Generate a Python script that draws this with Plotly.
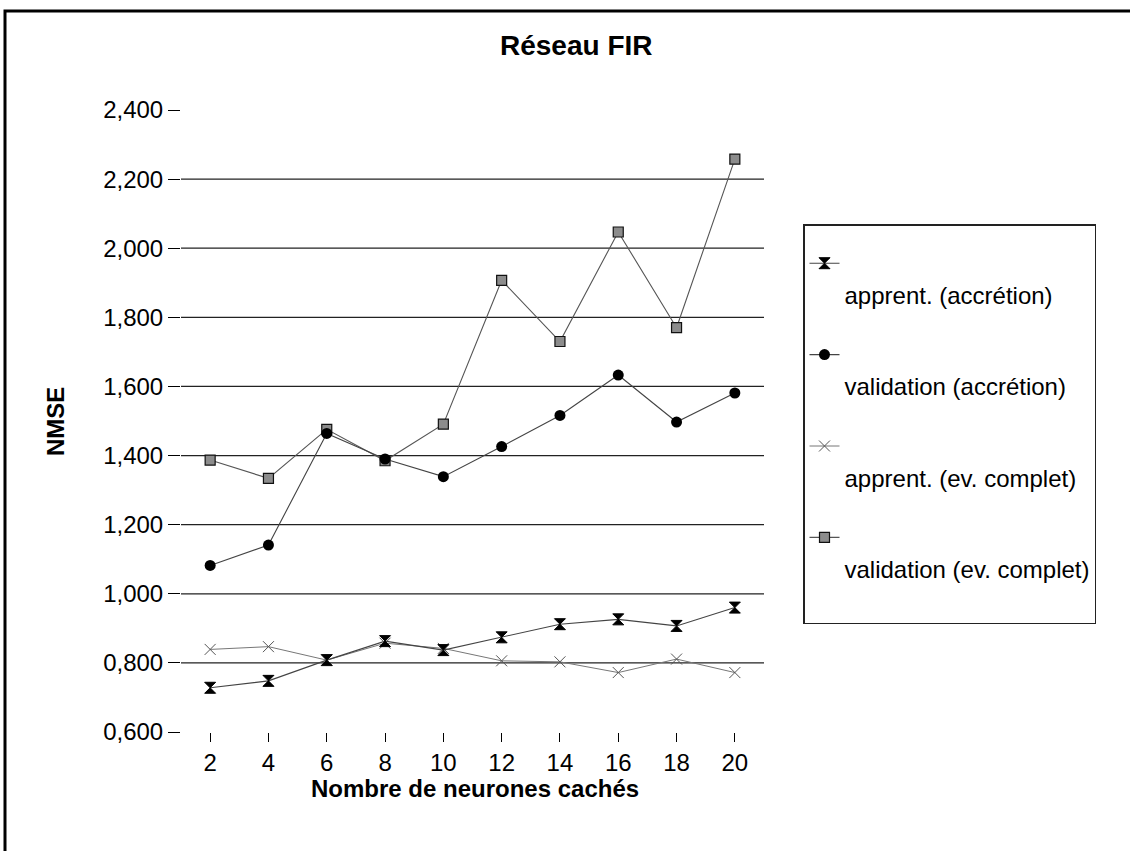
import plotly.graph_objects as go

# ---- data ----
neurones = [2, 4, 6, 8, 10, 12, 14, 16, 18, 20]
apprent_accretion = [0.728, 0.748, 0.808, 0.863, 0.837, 0.874, 0.912, 0.926, 0.907, 0.960]
validation_accretion = [1.082, 1.141, 1.464, 1.390, 1.339, 1.426, 1.516, 1.633, 1.497, 1.581]
apprent_complet = [0.839, 0.847, 0.808, 0.857, 0.842, 0.806, 0.803, 0.772, 0.811, 0.772]
validation_complet = [1.387, 1.334, 1.476, 1.385, 1.491, 1.907, 1.730, 2.047, 1.770, 2.258]

y_ticks = [0.6, 0.8, 1.0, 1.2, 1.4, 1.6, 1.8, 2.0, 2.2, 2.4]
y_ticktext = ["0,600", "0,800", "1,000", "1,200", "1,400", "1,600", "1,800", "2,000", "2,200", "2,400"]

names = ["apprent. (accrétion)", "validation (accrétion)",
         "apprent. (ev. complet)", "validation (ev. complet)"]

FONT = "Liberation Sans, Arial, sans-serif"
W, H = 1130, 851
L, R, T, B = 181, 366, 110, 119
pw, ph = W - L - R, H - T - B


def px_x(p):
    return (p - L) / pw


def px_y(p):
    return (H - B - p) / ph


def legend_label(i):
    txt = "<br>" + names[i]
    if i == len(names) - 1:
        txt += "<br> "
    return txt


fig = go.Figure()

fig.add_trace(go.Scatter(
    x=neurones, y=apprent_accretion, name=legend_label(0), legendgroup="g1", zorder=4,
    mode="lines+markers",
    line=dict(color="#444444", width=1.1),
    marker=dict(symbol="hourglass", size=11, color="#000000", line=dict(color="#000000", width=1)),
))
fig.add_trace(go.Scatter(
    x=neurones, y=validation_accretion, name=legend_label(1), legendgroup="g2", zorder=3,
    mode="lines+markers",
    line=dict(color="#444444", width=1.1),
    marker=dict(symbol="circle", size=11, color="#000000"),
))
fig.add_trace(go.Scatter(
    x=neurones, y=apprent_complet, name=legend_label(2), legendgroup="g3", zorder=2,
    mode="lines+markers",
    line=dict(color="#777777", width=1),
    marker=dict(symbol="x-thin-open", size=11, color="#555555", line=dict(color="#555555", width=1)),
))
fig.add_trace(go.Scatter(
    x=neurones, y=validation_complet, name=legend_label(3), legendgroup="g4", zorder=1,
    mode="lines+markers",
    line=dict(color="#555555", width=1.1),
    marker=dict(symbol="square", size=10, color="#8c8c8c", line=dict(color="#111111", width=1.2)),
))

shapes = []
# horizontal gridlines (inner tick values only)
for v in y_ticks[1:-1]:
    shapes.append(dict(type="line", xref="x domain", yref="y", x0=0, x1=1, y0=v, y1=v,
                       line=dict(color="#222222", width=1.2), layer="below"))
# outer frame of the picture
shapes.append(dict(type="rect", xref="paper", yref="paper",
                   x0=px_x(5), x1=px_x(1136), y0=px_y(858), y1=px_y(11),
                   line=dict(color="#000000", width=3), fillcolor="rgba(0,0,0,0)"))

annotations = [
    dict(text="<b>Réseau FIR</b>", xref="paper", yref="paper", x=px_x(576), y=px_y(45),
         xanchor="center", yanchor="middle", showarrow=False,
         font=dict(family=FONT, size=28, color="#000000")),
    dict(text="<b>Nombre de neurones cachés</b>", xref="paper", yref="paper",
         x=px_x(475), y=px_y(788), xanchor="center", yanchor="middle", showarrow=False,
         font=dict(family=FONT, size=24, color="#000000")),
    dict(text="<b>NMSE</b>", xref="paper", yref="paper", x=px_x(55), y=px_y(422),
         xanchor="center", yanchor="middle", showarrow=False, textangle=-90,
         font=dict(family=FONT, size=24, color="#000000")),
]

fig.update_layout(
    width=W, height=H,
    margin=dict(l=L, r=R, t=T, b=B, pad=0),
    paper_bgcolor="white", plot_bgcolor="white",
    font=dict(family=FONT, size=24, color="#000000"),
    showlegend=True,
    legend=dict(
        x=px_x(803), y=px_y(224), xanchor="left", yanchor="top",
        xref="paper", yref="paper",
        bgcolor="white", bordercolor="#222222", borderwidth=1.5,
        font=dict(family=FONT, size=24, color="#000000"),
        valign="top", traceorder="grouped", itemwidth=30,
        tracegroupgap=26,
        title=dict(text=" ", font=dict(size=12)),
    ),
    xaxis=dict(
        range=[1, 21], tickmode="array", tickvals=neurones,
        ticktext=[str(n) for n in neurones],
        showgrid=False, zeroline=False, showline=False,
        ticks="outside", ticklen=9, tickwidth=1, tickcolor="#000000",
        tickfont=dict(family=FONT, size=24),
    ),
    yaxis=dict(
        range=[0.6, 2.4], tickmode="array", tickvals=y_ticks, ticktext=y_ticktext,
        showgrid=False, zeroline=False, showline=False,
        ticks="outside", ticklen=12, tickwidth=1, tickcolor="#000000",
        tickfont=dict(family=FONT, size=24),
    ),
    shapes=shapes,
    annotations=annotations,
)

fig.write_html("out.html")
